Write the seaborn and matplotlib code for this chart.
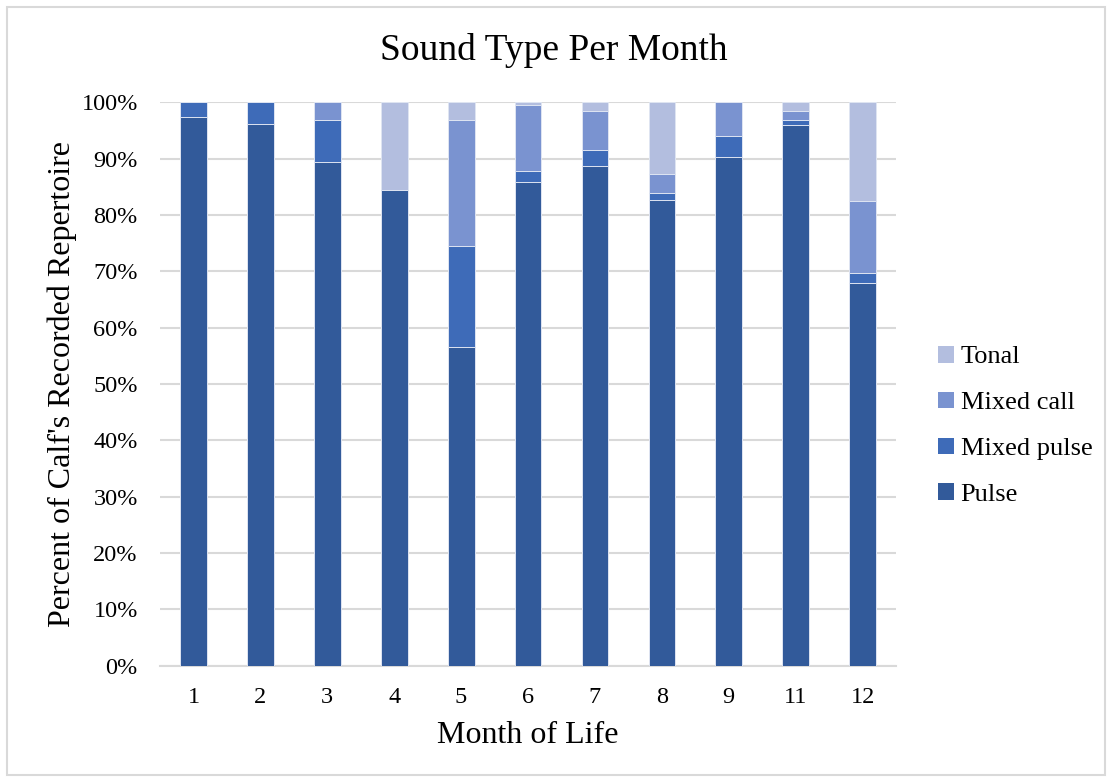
import numpy as np
import pandas as pd
import matplotlib
matplotlib.use("Agg")
import matplotlib.pyplot as plt
from matplotlib.patches import Patch, Rectangle
import seaborn as sns

months = ["1", "2", "3", "4", "5", "6", "7", "8", "9", "11", "12"]
pulse = [97.4, 96.2, 89.4, 84.5, 56.6, 85.8, 88.7, 82.7, 90.2, 96.0, 67.9]
mixed_pulse = [2.6, 3.8, 7.5, 0.0, 17.8, 2.0, 2.8, 1.2, 3.8, 0.9, 1.7]
mixed_call = [0.0, 0.0, 3.1, 0.0, 22.5, 11.7, 7.0, 3.3, 6.0, 1.6, 12.8]
tonal = [0.0, 0.0, 0.0, 15.5, 3.1, 0.5, 1.5, 12.8, 0.0, 1.5, 17.6]

series = ["Pulse", "Mixed pulse", "Mixed call", "Tonal"]
colors = {"Pulse": "#325A9A", "Mixed pulse": "#3E6BB8",
          "Mixed call": "#7A93D0", "Tonal": "#B3BEDF"}

df = pd.DataFrame({"month": months, "Pulse": pulse, "Mixed pulse": mixed_pulse,
                   "Mixed call": mixed_call, "Tonal": tonal})
# cumulative tops so each layer can be drawn over the next one
cum = df[series].cumsum(axis=1)

sns.set_theme(style="white", rc={"text.color": "black", "axes.labelcolor": "black",
                                 "xtick.color": "black", "ytick.color": "black"})
plt.rcParams["font.family"] = ["Liberation Serif", "DejaVu Serif"]

fig = plt.figure(figsize=(11.07, 7.8), dpi=100)
ax = fig.add_axes([0.1445, 0.1465, 0.665, 0.7225])

for s in series[::-1]:
    sns.barplot(x=df["month"], y=cum[s], color=colors[s], width=0.4,
                edgecolor="#dfe5f2", linewidth=0.7, saturation=1, ax=ax,
                zorder=3)

ax.set_ylim(0, 100)
ax.set_xlim(-0.5, len(months) - 0.5)
yt = np.arange(0, 101, 10)
ax.set_yticks(yt)
ax.set_yticklabels([f"{v}%" for v in yt])
ax.grid(axis="y", color="#d9d9d9", linewidth=1.5, zorder=0)
ax.set_axisbelow(True)
for sp in ["left", "right", "top"]:
    ax.spines[sp].set_visible(False)
ax.spines["bottom"].set_color("#d9d9d9")
ax.spines["bottom"].set_linewidth(1.5)
ax.tick_params(axis="both", length=0, labelsize=17.5)
ax.tick_params(axis="x", pad=15)
ax.tick_params(axis="y", pad=16)

ax.set_xlabel("Month of Life", fontsize=23, labelpad=10)
ax.set_ylabel("Percent of Calf's Recorded Repertoire", fontsize=23, labelpad=3)
fig.suptitle("Sound Type Per Month", fontsize=27, y=0.958)

handles = [Patch(facecolor=colors[s], edgecolor="none") for s in series[::-1]]
ax.legend(handles, series[::-1], loc="center left", bbox_to_anchor=(1.057, 0.4255),
          frameon=False, fontsize=19, handlelength=0.6, handleheight=0.6,
          handletextpad=0.25, labelspacing=0.88, borderaxespad=0, borderpad=0)

fig.patches.append(Rectangle((0.006, 0.007), 0.992, 0.984, transform=fig.transFigure,
                             fill=False, edgecolor="#d9d9d9", linewidth=1.5))

fig.savefig("out.png", dpi=100, facecolor="white")
